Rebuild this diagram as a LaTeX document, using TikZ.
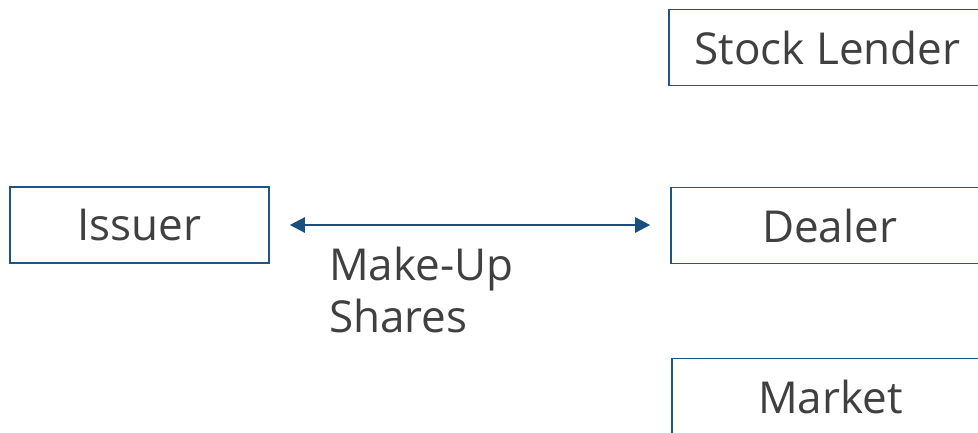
\documentclass[tikz,border=0pt]{standalone}
\usepackage{fontspec}
\setmainfont{Open Sans}
\usetikzlibrary{arrows.meta}
\definecolor{boxblue}{RGB}{31,84,135}
\definecolor{arrowblue}{RGB}{24,78,128}
\definecolor{txtgray}{RGB}{64,64,64}
\tikzset{
  entity/.style={draw=boxblue, line width=1.6pt, fill=white, rectangle,
    minimum height=76pt, inner sep=0pt, text=txtgray,
    font=\fontsize{44}{52}\selectfont},
  flow/.style={arrowblue, line width=2.4pt,
    {Triangle[length=15pt,width=15pt]}-{Triangle[length=15pt,width=15pt]},
    shorten <=20pt, shorten >=20pt},
  lbl/.style={text=txtgray, align=left, inner sep=0pt,
    font=\fontsize{44}{52}\selectfont}
}
\begin{document}
\begin{tikzpicture}[x=1pt,y=-1pt]
\useasboundingbox (0,0) rectangle (978,432);
\clip (0,0) rectangle (978,432);
\fill[white] (0,0) rectangle (978,432);
\node[entity, minimum width=259pt] (issuer) at (139.5,225) {Issuer};
\node[entity, minimum width=317pt] (lender) at (827.5,47.5) {Stock Lender};
\node[entity, minimum width=317pt] (dealer) at (829.5,225.5) {Dealer};
\node[entity, minimum width=317pt] (market) at (830.5,396.5) {Market};
\draw[flow] (issuer.east) -- (issuer.east -| dealer.west);
\node[lbl, anchor=base west] (makeup) at (329,332) {Make-Up\\Shares};
\end{tikzpicture}
\end{document}
